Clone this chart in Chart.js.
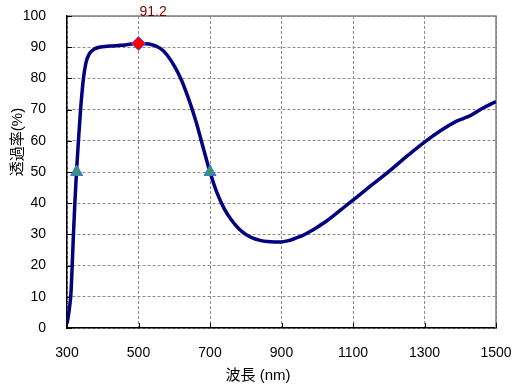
<!DOCTYPE html>
<html>
<head>
<meta charset="utf-8">
<script src="https://cdn.jsdelivr.net/npm/chart.js@4.4.1/dist/chart.umd.min.js"></script>
<style>
html, body { margin: 0; padding: 0; background: #fff; }
</style>
</head>
<body>
<canvas id="tChart" width="521" height="389"></canvas>
<script>
// wavelength (nm) / transmittance (%)
const wavelength = [300, 304, 308, 311, 314, 318, 322, 326.5, 332, 338, 346, 353, 362, 375, 390, 420, 450, 480, 500,
                    530, 560, 580, 600, 620, 640, 660, 680, 700, 720, 740, 760, 780, 800, 820, 840, 860, 880, 900,
                    920, 940, 960, 980, 1000, 1025, 1050, 1075, 1100, 1150, 1200, 1250, 1300, 1350, 1390, 1410, 1430, 1460, 1500];
const transmittance = [1.5, 4, 7.5, 11, 18.5, 30, 40, 50, 60, 70, 80, 85, 87.8, 89.3, 90, 90.4, 90.6, 91, 91.2,
                       91, 89.7, 87.5, 84, 79.5, 73.5, 66.5, 58.2, 50, 43.2, 38.2, 34.6, 31.9, 30, 28.8, 28.1, 27.7, 27.55, 27.6,
                       28, 28.8, 29.7, 30.9, 32.3, 34.2, 36.4, 38.7, 41, 45.6, 50.1, 55, 59.6, 63.6, 66.3, 67.2, 68.2, 70.3, 72.6];
const peakX = [500];
const peakY = [91.2];
const halfX = [327, 700];
const halfY = [50, 50];
const xTicks = [300, 500, 700, 900, 1100, 1300, 1500];
const yTicks = [0, 10, 20, 30, 40, 50, 60, 70, 80, 90, 100];
const xTitle = '波長 (nm)';
const yTitle = '透過率(%)';

const numFont = "'Liberation Sans', Arial, sans-serif";
const titleFont = "15px 'Liberation Sans', 'Noto Sans CJK JP', sans-serif";

const pts = (xs, ys) => xs.map((x, i) => ({ x: x, y: ys[i] }));

// frame, inside tick marks, peak label and axis titles
const decor = {
   id: 'decor',
   beforeDatasetsDraw(chart) {
      const { ctx, chartArea: a, scales } = chart;
      ctx.save();
      ctx.strokeStyle = '#808080';
      ctx.lineWidth = 1.5;
      ctx.beginPath();
      ctx.moveTo(a.left, a.top);
      ctx.lineTo(a.right, a.top);
      ctx.lineTo(a.right, a.bottom);
      ctx.stroke();
      ctx.strokeStyle = '#000';
      ctx.lineWidth = 1;
      ctx.beginPath();
      xTicks.forEach(v => {
         const px = Math.round(scales.x.getPixelForValue(v)) + 0.5;
         ctx.moveTo(px, a.bottom);
         ctx.lineTo(px, a.bottom - 5);
      });
      yTicks.forEach(v => {
         const py = Math.round(scales.y.getPixelForValue(v)) + 0.5;
         ctx.moveTo(a.left, py);
         ctx.lineTo(a.left + 5, py);
      });
      ctx.stroke();
      ctx.restore();
   },
   afterDraw(chart) {
      const { ctx, scales } = chart;
      ctx.save();
      ctx.fillStyle = '#800000';
      ctx.font = '14px ' + numFont;
      ctx.textAlign = 'left';
      ctx.textBaseline = 'middle';
      ctx.fillText(String(peakY[0]), scales.x.getPixelForValue(peakX[0]) + 1, 12);
      ctx.fillStyle = '#000';
      ctx.font = titleFont;
      ctx.textAlign = 'center';
      ctx.fillText(xTitle, 258, 376);
      ctx.translate(18, 142);
      ctx.rotate(-Math.PI / 2);
      ctx.fillText(yTitle, 0, 0);
      ctx.restore();
   }
};

new Chart(document.getElementById('tChart').getContext('2d'), {
   type: 'line',
   data: {
      datasets: [{
         data: pts(wavelength, transmittance),
         borderColor: '#000080',
         borderWidth: 3.5,
         pointRadius: 0,
         cubicInterpolationMode: 'monotone',
         fill: false,
         order: 2
      }, {
         data: pts(peakX, peakY),
         showLine: false,
         pointStyle: 'rectRot',
         pointRadius: 7,
         backgroundColor: '#ff0000',
         borderColor: '#5a5aff',
         borderWidth: 1,
         order: 1
      }, {
         data: pts(halfX, halfY),
         showLine: false,
         pointStyle: 'triangle',
         pointRadius: 7,
         backgroundColor: '#339966',
         borderColor: '#4a6aff',
         borderWidth: 1,
         order: 1
      }]
   },
   options: {
      responsive: false,
      animation: false,
      layout: { padding: { top: 16, right: 25, left: 0, bottom: 0 } },
      scales: {
         x: {
            type: 'linear',
            min: 300,
            max: 1500,
            afterBuildTicks: s => { s.ticks = xTicks.map(v => ({ value: v })); },
            afterFit: s => { s.height = 61; },
            grid: { color: '#8c8c8c', lineWidth: 1, drawTicks: true, tickLength: 17, tickColor: 'rgba(0,0,0,0)' },
            border: { color: '#000', width: 1.5, dash: [3, 2] },
            ticks: { color: '#000', padding: 0, font: { family: numFont, size: 14 }, maxRotation: 0,
                     callback: v => String(v) }
         },
         y: {
            min: 0,
            max: 100,
            afterBuildTicks: s => { s.ticks = yTicks.map(v => ({ value: v })); },
            afterFit: s => { s.width = 67; },
            grid: { color: '#8c8c8c', lineWidth: 1, drawTicks: true, tickLength: 21, tickColor: 'rgba(0,0,0,0)' },
            border: { color: '#000', width: 1.5, dash: [3, 2] },
            ticks: { color: '#000', padding: 0, font: { family: numFont, size: 14 }, callback: v => String(v) }
         }
      },
      plugins: {
         legend: { display: false },
         tooltip: { enabled: false }
      }
   },
   plugins: [decor]
});
</script>
</body>
</html>
